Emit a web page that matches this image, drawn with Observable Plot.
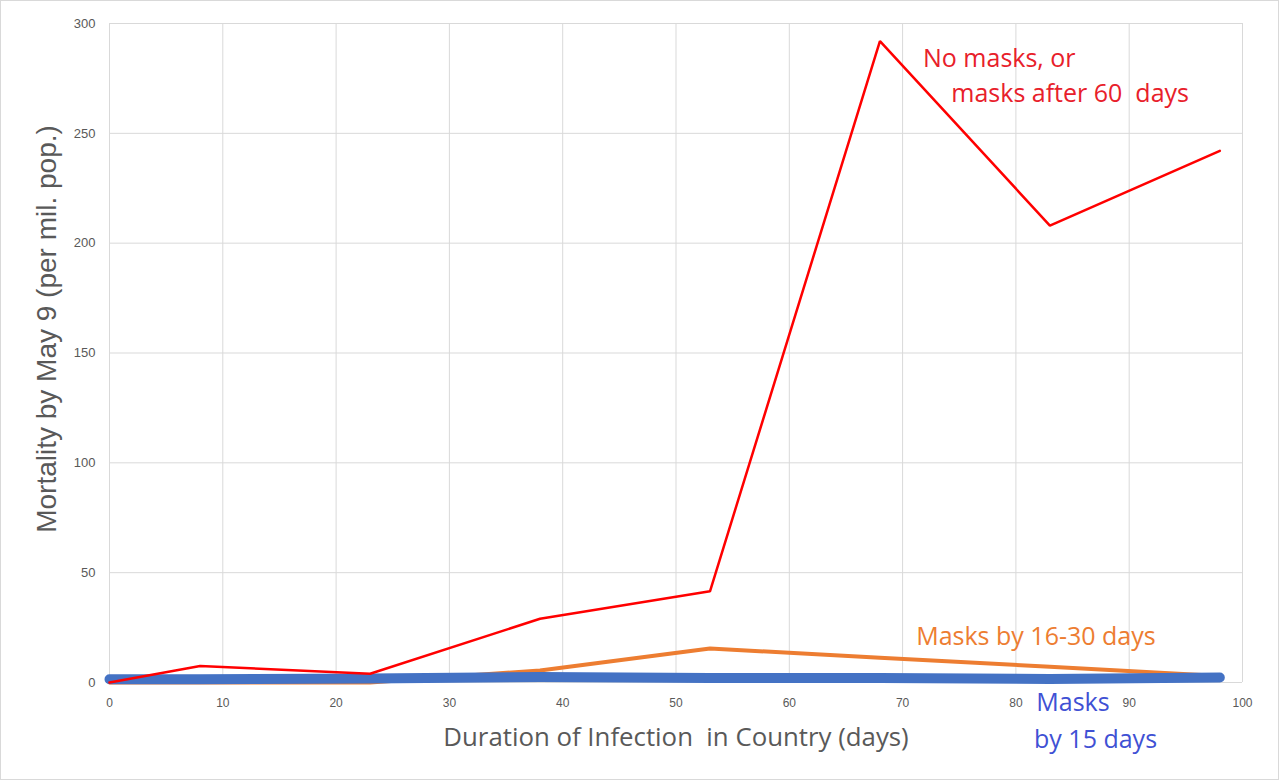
<!DOCTYPE html>
<html>
<head>
<meta charset="utf-8">
<script src="https://cdn.jsdelivr.net/npm/d3@7"></script>
<script src="https://cdn.jsdelivr.net/npm/@observablehq/plot@0.6"></script>
<style>
  html, body { margin: 0; padding: 0; background: #fff; }
  #wrap { position: relative; width: 1280px; height: 782px; overflow: hidden; }
  #border { position: absolute; left: 0; top: 0; width: 1277px; height: 778px; border: 1px solid #d9d9d9; pointer-events: none; }
</style>
</head>
<body>
<div id="wrap"><div id="border"></div></div>
<script>
// Days since infection reached the country (x) and mortality by May 9 per million (y)
const days = [0, 8, 23, 38, 53, 68, 83, 98];
const noMasks = [0, 7.5, 4, 29, 41.5, 292, 208, 242];
const masks16to30 = [0, 0, 0, 5.5, 15.5, 11.3, 7.2, 3];
const masks15 = [1.5, 1.5, 1.8, 2.5, 2, 2, 1.6, 2.3];

const xTicks = [0, 10, 20, 30, 40, 50, 60, 70, 80, 90, 100];
const yTicks = [0, 50, 100, 150, 200, 250, 300];

const seriesNames = ["No masks, or masks after 60 days", "Masks by 16-30 days", "Masks by 15 days"];

// Annotation labels (data coordinates)
const labelText = ["No masks, or", "masks after 60  days", "Masks by 16-30 days", "Masks", "by 15 days"];
const labelX = [71.8, 74.3, 71.2, 81.8, 81.6];
const labelY = [284, 268, 20.5, -9.2, -26];
const labelColor = ["#e8202a", "#e8202a", "#ed7d31", "#3f51d4", "#3f51d4"];

const mk = (vals) => days.map((d, i) => ({x: d, y: vals[i]}));
const labels = labelText.map((t, i) => ({t, x: labelX[i], y: labelY[i], c: labelColor[i]}));

const chart = Plot.plot({
  width: 1280,
  height: 782,
  marginLeft: 109,
  marginRight: 38,
  marginTop: 23,
  marginBottom: 100,
  style: {background: "#fff", overflow: "visible"},
  x: {domain: [0, 100]},
  y: {domain: [0, 300]},
  marks: [
    Plot.gridX(xTicks, {stroke: "#d9d9d9", strokeOpacity: 1, strokeWidth: 1}),
    Plot.gridY(yTicks, {stroke: "#d9d9d9", strokeOpacity: 1, strokeWidth: 1}),
    Plot.axisY({ticks: yTicks, tickSize: 0, tickPadding: 14, label: null, fontSize: 13, fontFamily: "Liberation Sans, Arial, sans-serif", color: "#595959"}),
    Plot.axisX({ticks: xTicks, tickSize: 0, tickPadding: 16, label: null, fontSize: 12, fontFamily: "Liberation Sans, Arial, sans-serif", color: "#595959"}),
    Plot.line(mk(masks16to30), {x: "x", y: "y", stroke: "#ed7d31", strokeWidth: 4, strokeLinejoin: "round"}),
    Plot.line(mk(masks15), {x: "x", y: "y", stroke: "#4472c4", strokeWidth: 10, strokeLinecap: "round", strokeLinejoin: "round"}),
    Plot.line(mk(noMasks), {x: "x", y: "y", stroke: "#ff0000", strokeWidth: 2.5, strokeLinejoin: "miter"}),
    Plot.text(labels, {x: "x", y: "y", text: "t", fill: "c", textAnchor: "start", fontSize: 25, fontFamily: "Open Sans, Lato, sans-serif"}),
    Plot.text(["Mortality by May 9 (per mil. pop.)"], {frameAnchor: "left", textAnchor: "middle", text: d => d, rotate: -90, dx: -62, dy: -24, fontSize: 28, fill: "#595959", fontFamily: "Liberation Sans, Arial, sans-serif"}),
    Plot.text(["Duration of Infection  in Country (days)"], {frameAnchor: "bottom", text: d => d, dy: 63, fontSize: 25.8, fill: "#595959", fontFamily: "Open Sans, Lato, sans-serif"})
  ]
});
document.getElementById("wrap").prepend(chart);
</script>
</body>
</html>
